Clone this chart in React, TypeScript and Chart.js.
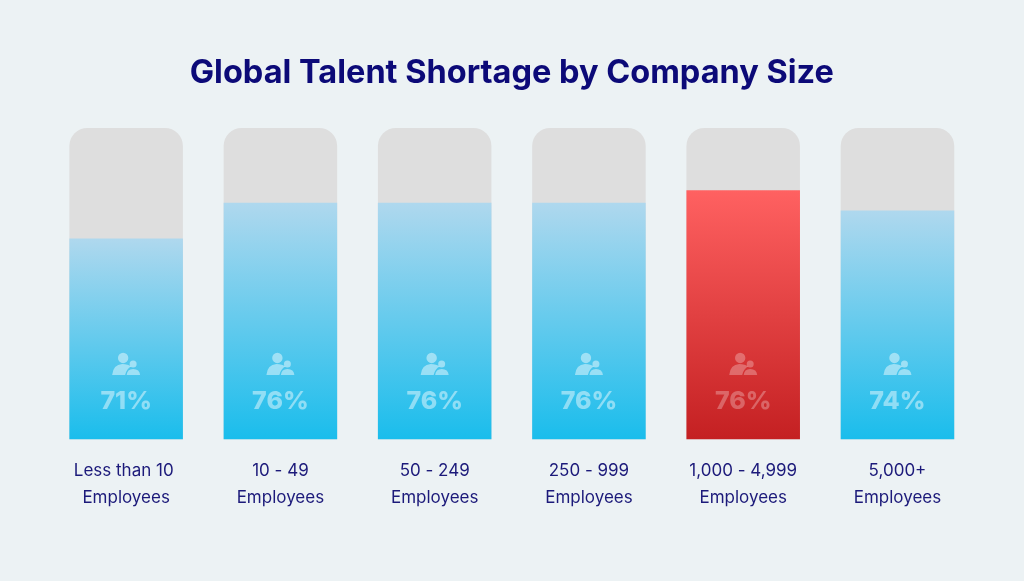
import React, { useEffect, useRef } from "react";
import { Chart, registerables } from "chart.js";

Chart.register(...registerables);

const titleText = "Global Talent Shortage by Company Size";
const categories: string[][] = [
  ["Less than 10 ", "Employees"],
  ["10 - 49", "Employees"],
  ["50 - 249", "Employees"],
  ["250 - 999", "Employees"],
  ["1,000 - 4,999", "Employees"],
  ["5,000+", "Employees"],
];
const barValues = [64.5, 76, 76, 76, 80, 73.5];
const printedLabels = ["71%", "76%", "76%", "76%", "76%", "74%"];
const trackValues = [100, 100, 100, 100, 100, 100];
const highlightIndex = 4;
const FONT = "Inter, 'Noto Sans', sans-serif";

const badgePlugin = {
  id: "badges",
  afterDatasetsDraw(chart: any) {
    const { ctx } = chart;
    const meta = chart.getDatasetMeta(1);
    const base = chart.scales.y.getPixelForValue(0);
    meta.data.forEach((bar: any, i: number) => {
      const cx = bar.x;
      const fill = i === highlightIndex ? "rgba(255,255,255,0.28)" : "rgba(255,255,255,0.46)";
      ctx.save();
      ctx.fillStyle = fill;
      // people icon
      const top = base - 87;
      ctx.beginPath();
      ctx.arc(cx - 3, top + 5.5, 5.2, 0, Math.PI * 2);
      ctx.fill();
      ctx.beginPath();
      ctx.moveTo(cx - 14, top + 22.5);
      ctx.quadraticCurveTo(cx - 13, top + 12, cx - 4, top + 11.5);
      ctx.quadraticCurveTo(cx + 2, top + 11.5, cx + 5, top + 14);
      ctx.quadraticCurveTo(cx + 0.5, top + 16, cx - 1, top + 22.5);
      ctx.closePath();
      ctx.fill();
      ctx.beginPath();
      ctx.arc(cx + 7, top + 11.5, 3.5, 0, Math.PI * 2);
      ctx.fill();
      ctx.beginPath();
      ctx.moveTo(cx + 0.5, top + 22.5);
      ctx.quadraticCurveTo(cx + 1, top + 16.5, cx + 7, top + 16.5);
      ctx.quadraticCurveTo(cx + 13.5, top + 16.5, cx + 14, top + 22.5);
      ctx.closePath();
      ctx.fill();
      // printed value
      ctx.font = `800 25px ${FONT}`;
      ctx.textAlign = "center";
      ctx.textBaseline = "middle";
      ctx.fillText(printedLabels[i], cx, base - 38);
      ctx.restore();
    });
  },
};

function barGradient(context: any) {
  const { chart, dataIndex } = context;
  const { ctx, scales, chartArea } = chart;
  const fallback = dataIndex === highlightIndex ? "#E04040" : "#6CC8EC";
  if (!chartArea || !scales.y || dataIndex === undefined) return fallback;
  const top = scales.y.getPixelForValue(barValues[dataIndex]);
  const bottom = scales.y.getPixelForValue(0);
  if (!Number.isFinite(top) || !Number.isFinite(bottom)) return fallback;
  const g = ctx.createLinearGradient(0, top, 0, bottom);
  if (dataIndex === highlightIndex) {
    g.addColorStop(0, "#FF6161");
    g.addColorStop(1, "#C42022");
  } else {
    g.addColorStop(0, "#AFD8EE");
    g.addColorStop(1, "#1ABDEC");
  }
  return g;
}

export default function App() {
  const ref = useRef<HTMLCanvasElement>(null);
  useEffect(() => {
    const chart = new Chart(ref.current!, {
      type: "bar",
      plugins: [badgePlugin],
      data: {
        labels: categories as any,
        datasets: [
          {
            label: "Track",
            data: trackValues,
            backgroundColor: "#DEDEDE",
            borderRadius: { topLeft: 18, topRight: 18, bottomLeft: 0, bottomRight: 0 },
            borderSkipped: false,
            order: 2,
          },
          {
            label: "Talent shortage",
            data: barValues,
            backgroundColor: barGradient,
            order: 1,
          },
        ],
      },
      options: {
        animation: false,
        responsive: false,
        maintainAspectRatio: false,
        layout: { padding: { left: 49, right: 49.4, top: 0, bottom: 60.5 } },
        datasets: { bar: { grouped: false, barPercentage: 0.736, categoryPercentage: 1 } },
        plugins: {
          legend: { display: false },
          tooltip: { enabled: false },
          title: {
            display: true,
            text: titleText,
            color: "#0C0A78",
            font: { family: FONT, size: 32.5, weight: "bold" },
            padding: { top: 53.5, bottom: 35.5 },
          },
        },
        scales: {
          x: {
            grid: { display: false },
            border: { display: false },
            ticks: {
              color: "#1C1A7A",
              padding: 9.5,
              maxRotation: 0,
              autoSkip: false,
              font: { family: FONT, size: 17, lineHeight: 1.59 },
            },
          },
          y: { display: false, min: 0, max: 100 },
        },
      },
    } as any);
    return () => chart.destroy();
  }, []);
  return (
    <div style={{ position: "fixed", left: 0, top: 0, width: 1024, height: 581, background: "#ECF2F4" }}>
      <canvas ref={ref} width={1024} height={581} style={{ display: "block" }} />
    </div>
  );
}
